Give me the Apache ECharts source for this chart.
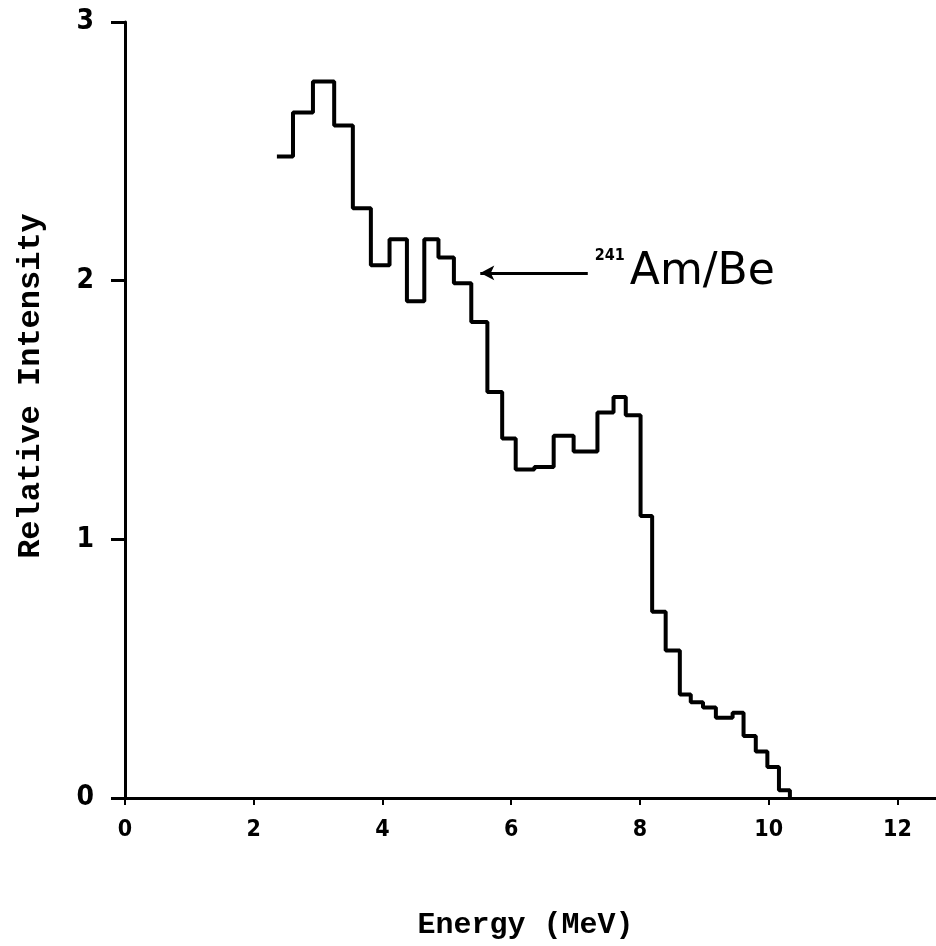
<!DOCTYPE html>
<html>
<head>
<meta charset="utf-8">
<script src="https://cdn.jsdelivr.net/npm/echarts@6/dist/echarts.min.js"></script>
<style>
    html, body { margin: 0; padding: 0; background: #fff; }
    #main { width: 936px; height: 946px; }
</style>
</head>
<body>
<div id="main"></div>
<script>
// bin edges (MeV) and relative intensity of each bin
var binEdges = [2.36, 2.61, 2.92, 3.25, 3.54, 3.82, 4.11, 4.38, 4.65, 4.87,
    5.11, 5.38, 5.63, 5.86, 6.07, 6.36, 6.66, 6.97, 7.34, 7.59,
    7.78, 8.01, 8.19, 8.40, 8.62, 8.79, 8.98, 9.18, 9.44, 9.61,
    9.80, 9.98, 10.16, 10.33];
var binValues = [2.48, 2.65, 2.77, 2.60, 2.28, 2.06, 2.16, 1.92, 2.16, 2.09,
    1.99, 1.84, 1.57, 1.39, 1.27, 1.28, 1.40, 1.34, 1.49, 1.55,
    1.48, 1.09, 0.72, 0.57, 0.40, 0.37, 0.35, 0.31, 0.33, 0.24,
    0.18, 0.12, 0.03];
var xTicks = [0, 2, 4, 6, 8, 10, 12];
var yTicks = [0, 1, 2, 3];
// arrow pointing at the curve
var arrowFrom = [7.19, 2.03];
var arrowTo = [5.52, 2.03];

var stepData = [];
for (var i = 0; i < binValues.length; i++) {
    stepData.push([binEdges[i], binValues[i]]);
}
stepData.push([binEdges[binEdges.length - 1], binValues[binValues.length - 1]]);
stepData.push([binEdges[binEdges.length - 1], 0]);

var myChart = echarts.init(document.getElementById('main'));
var labelFont = {
    color: '#000',
    fontFamily: 'DejaVu Sans Condensed',
    fontWeight: 'bold'
};
var option = {
    animation: false,
    backgroundColor: '#fff',
    grid: {
        left: 125,
        right: 0,
        top: 22,
        bottom: 148
    },
    xAxis: {
        type: 'value',
        min: 0,
        max: 12.6,
        name: 'Energy (MeV)',
        nameLocation: 'middle',
        nameGap: 112,
        nameTextStyle: {
            color: '#000',
            fontFamily: 'Liberation Mono',
            fontWeight: 'bold',
            fontSize: 30,
            padding: [0, 10, 0, 0]
        },
        axisLine: { lineStyle: { color: '#000', width: 3 } },
        axisTick: {
            customValues: xTicks,
            length: 7,
            lineStyle: { color: '#000', width: 2 }
        },
        axisLabel: Object.assign({
            customValues: xTicks,
            margin: 21,
            fontSize: 23
        }, labelFont),
        splitLine: { show: false }
    },
    yAxis: {
        type: 'value',
        min: 0,
        max: 3,
        interval: 1,
        name: 'Relative Intensity',
        nameLocation: 'middle',
        nameGap: 78,
        nameTextStyle: {
            color: '#000',
            fontFamily: 'Liberation Mono',
            fontWeight: 'bold',
            fontSize: 32,
            padding: [0, 0, 0, 48]
        },
        axisLine: { show: true, lineStyle: { color: '#000', width: 3 } },
        axisTick: {
            show: true,
            customValues: yTicks,
            length: 14,
            lineStyle: { color: '#000', width: 3 }
        },
        axisLabel: Object.assign({
            customValues: yTicks,
            margin: 31,
            fontSize: 28
        }, labelFont),
        splitLine: { show: false }
    },
    series: [{
        name: '241Am/Be',
        type: 'line',
        step: 'end',
        showSymbol: false,
        lineStyle: { color: '#000', width: 4 },
        data: stepData,
        markLine: {
            silent: true,
            symbol: ['none', 'arrow'],
            symbolSize: [11, 14],
            lineStyle: { color: '#000', width: 3, type: 'solid' },
            label: {
                show: true,
                position: 'start',
                distance: 7,
                formatter: '{sup|241}{big|Am/Be}',
                rich: {
                    sup: {
                        fontFamily: 'DejaVu Sans Condensed',
                        fontWeight: 'bold',
                        fontSize: 16,
                        color: '#000',
                        verticalAlign: 'top',
                        lineHeight: 22,
                        padding: [0, 5, 0, 0]
                    },
                    big: {
                        fontFamily: 'DejaVu Sans',
                        fontSize: 44,
                        color: '#000',
                        lineHeight: 50
                    }
                }
            },
            data: [[
                { coord: arrowFrom },
                { coord: arrowTo }
            ]]
        }
    }]
};
myChart.setOption(option);
</script>
</body>
</html>
